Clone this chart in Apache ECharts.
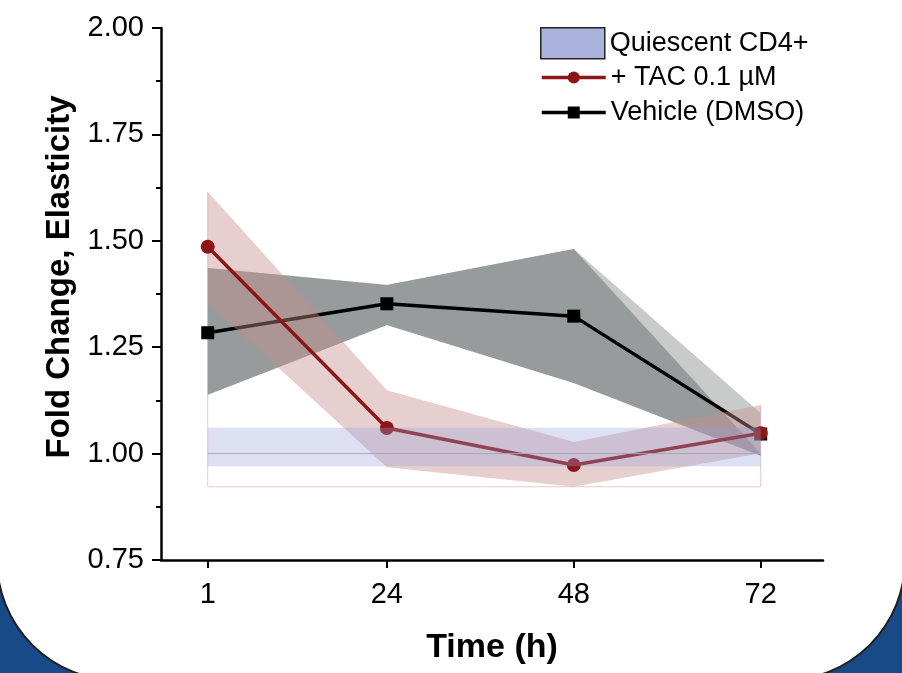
<!DOCTYPE html>
<html>
<head>
<meta charset="utf-8">
<script src="https://cdn.jsdelivr.net/npm/echarts@6/dist/echarts.min.js"></script>
<style>
  html, body { margin: 0; padding: 0; background: #174a86; }
  #chart { width: 902px; height: 673px; }
</style>
</head>
<body>
<div id="chart"></div>
<script>
  const times = [1, 24, 48, 72];
  const tickValues = [1, 24, 48, 72];

  const tacMean = [1.486, 1.060, 0.973, 1.048];
  const tacUpper = [1.615, 1.149, 1.027, 1.114];
  const tacLower = [1.354, 0.968, 0.922, 1.001];

  const vehicleMean = [1.284, 1.352, 1.323, 1.046];
  const vehicleUpper = [1.436, 1.396, 1.481, 1.095];
  const vehicleUpperInner = [1.436, 1.396, 1.481, 1.0];
  const vehicleLower = [1.138, 1.302, 1.166, 0.995];

  const quiescentMean = [1.0, 1.0, 1.0, 1.0];
  const quiescentUpper = [1.061, 1.061, 1.061, 1.061];
  const quiescentLower = [0.970, 0.970, 0.970, 0.970];

  const FONT = '"Liberation Sans", Arial, sans-serif';
  const RED = '#8c1616';

  const pairs = (vals) => times.map((t, i) => [t, vals[i]]);

  const bandSeries = (name, upper, lower, fill, z) => ({
    name,
    type: 'custom',
    z,
    silent: true,
    data: times.map((t, i) => [t, upper[i], lower[i]]),
    encode: { x: 0, y: [1, 2] },
    renderItem: (params, api) => {
      if (params.dataIndex !== 0) return null;
      const pts = [];
      times.forEach((t, i) => pts.push(api.coord([t, upper[i]])));
      for (let i = times.length - 1; i >= 0; i--) pts.push(api.coord([times[i], lower[i]]));
      return { type: 'polygon', shape: { points: pts }, style: { fill } };
    }
  });

  // thin outline under the TAC band
  const minLower = Math.min(...tacLower);
  const outline = [
    [times[0], tacUpper[0]],
    [times[0], minLower],
    [times[3], minLower],
    [times[3], tacUpper[3]]
  ];

  const chart = echarts.init(document.getElementById('chart'));

  chart.setOption({
    animation: false,
    backgroundColor: '#174a86',
    graphic: [
      {
        type: 'rect',
        z: -10,
        shape: { x: -3, y: -200, width: 908, height: 880, r: 120 },
        style: { fill: '#ffffff', stroke: '#1e1e1e', lineWidth: 2 }
      }
    ],
    grid: { left: 161, right: 79, top: 28, bottom: 113 },
    legend: [
      {
        left: 540,
        top: 27,
        padding: 0,
        itemWidth: 64,
        itemHeight: 31,
        selectedMode: false,
        textStyle: { fontSize: 27, fontFamily: FONT, color: '#000' },
        data: [
          {
            name: 'Quiescent CD4+',
            icon: 'rect',
            itemStyle: { color: '#a9b3dc', borderColor: '#222', borderWidth: 1.5 }
          }
        ]
      },
      {
        left: 540,
        top: 64,
        padding: 0,
        orient: 'vertical',
        itemWidth: 64,
        itemHeight: 15,
        itemGap: 8,
        selectedMode: false,
        lineStyle: { width: 3.5 },
        textStyle: { fontSize: 27, lineHeight: 27, fontFamily: FONT, color: '#000' },
        data: ['+ TAC 0.1 µM', 'Vehicle (DMSO)']
      }
    ],
    xAxis: {
      type: 'value',
      min: -5,
      max: 80,
      name: 'Time (h)',
      nameLocation: 'middle',
      nameGap: 71,
      nameTextStyle: { fontSize: 34, fontWeight: 'bold', fontFamily: FONT, color: '#000' },
      axisLine: { onZero: false, lineStyle: { color: '#000', width: 2.5 } },
      axisTick: { customValues: tickValues, length: 8, lineStyle: { color: '#000', width: 2 } },
      axisLabel: { customValues: tickValues, fontSize: 29, fontFamily: FONT, color: '#000', margin: 20 },
      splitLine: { show: false }
    },
    yAxis: {
      type: 'value',
      min: 0.75,
      max: 2.0,
      interval: 0.25,
      name: 'Fold Change, Elasticity',
      nameLocation: 'middle',
      nameGap: 82,
      nameTextStyle: {
        fontSize: 33, fontWeight: 'bold', fontFamily: FONT, color: '#000',
        padding: [0, 0, 0, 34]
      },
      axisLine: { show: true, onZero: false, lineStyle: { color: '#000', width: 2.5 } },
      axisTick: { length: 9, lineStyle: { color: '#000', width: 2 } },
      minorTick: { show: true, splitNumber: 2, length: 5, lineStyle: { color: '#000', width: 2 } },
      axisLabel: {
        fontSize: 29, fontFamily: FONT, color: '#000', margin: 17,
        formatter: (v) => v.toFixed(2)
      },
      splitLine: { show: false }
    },
    series: [
      {
        name: 'outline',
        type: 'line',
        z: 1,
        silent: true,
        symbol: 'none',
        data: outline,
        lineStyle: { color: '#ecc9c9', width: 1 }
      },
      bandSeries('vehicleBandOuter', vehicleUpper, vehicleLower, '#c9cbcb', 2),
      bandSeries('vehicleBandInner', vehicleUpperInner, vehicleLower, '#989b9b', 3),
      {
        name: 'Vehicle (DMSO)',
        type: 'line',
        z: 4,
        data: pairs(vehicleMean),
        symbol: 'rect',
        symbolSize: 13,
        itemStyle: { color: '#000' },
        lineStyle: { color: '#000', width: 3.5 }
      },
      bandSeries('tacBand', tacUpper, tacLower, 'rgba(200,140,140,0.42)', 5),
      {
        name: '+ TAC 0.1 µM',
        type: 'line',
        z: 6,
        data: pairs(tacMean),
        symbol: 'circle',
        symbolSize: 14,
        itemStyle: { color: RED },
        lineStyle: { color: RED, width: 3.5 }
      },
      bandSeries('Quiescent CD4+', quiescentUpper, quiescentLower, 'rgba(150,160,215,0.33)', 7),
      {
        name: 'quiescentMean',
        type: 'line',
        z: 8,
        silent: true,
        symbol: 'none',
        data: pairs(quiescentMean),
        lineStyle: { color: '#a6a6b6', width: 1 }
      }
    ]
  });
</script>
</body>
</html>
